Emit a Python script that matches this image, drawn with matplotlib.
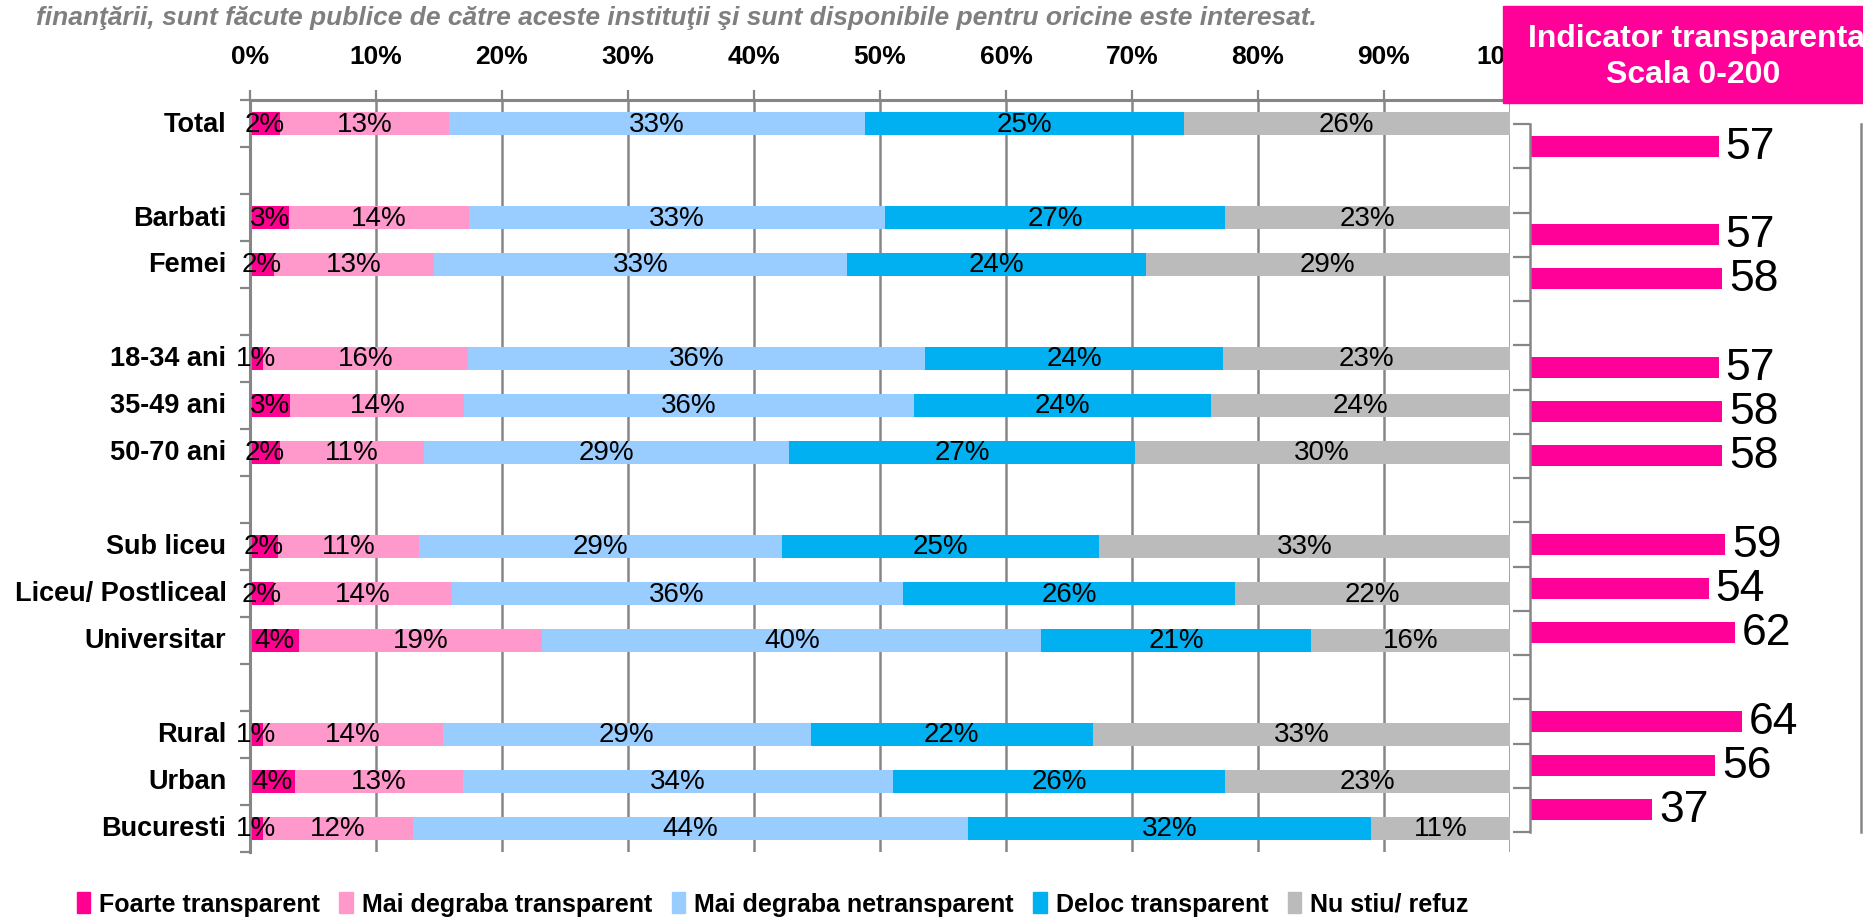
import matplotlib

matplotlib.use("Agg")
import matplotlib.pyplot as plt
from matplotlib.patches import Patch, Rectangle
import numpy as np

plt.rcParams["font.family"] = ["Liberation Sans", "DejaVu Sans"]

# groups of rows, separated by an empty slot
groups = [
    ["Total"],
    ["Barbati", "Femei"],
    ["18-34 ani", "35-49 ani", "50-70 ani"],
    ["Sub liceu", "Liceu/ Postliceal", "Universitar"],
    ["Rural", "Urban", "Bucuresti"],
]

series = ["Foarte transparent", "Mai degraba transparent", "Mai degraba netransparent",
          "Deloc transparent", "Nu stiu/ refuz"]
colors = ["#FF0090", "#FF99CC", "#99CCFF", "#00B0F0", "#BBBBBB"]

# shares per row (Total ... Bucuresti), percent
foarte = [2.4, 3.1, 1.9, 1.0, 3.2, 2.4, 2.2, 1.9, 3.9, 1.0, 3.6, 1.0]
mai_transp = [13.4, 14.3, 12.7, 16.3, 13.8, 11.4, 11.2, 14.1, 19.3, 14.3, 13.3, 11.9]
mai_netransp = [33.0, 33.0, 32.8, 36.3, 35.7, 29.0, 28.8, 35.8, 39.6, 29.2, 34.1, 44.1]
deloc = [25.3, 27.0, 23.7, 23.6, 23.6, 27.4, 25.2, 26.4, 21.4, 22.4, 26.4, 32.0]
nu_stiu = [25.9, 22.6, 28.9, 22.8, 23.7, 29.8, 32.6, 21.8, 15.8, 33.1, 22.6, 11.0]

# indicator transparenta, scala 0-200
indicator = [57, 57, 58, 57, 58, 58, 59, 54, 62, 64, 56, 37]

title = ("finanţării, sunt făcute publice de către aceste instituţii "
         "şi sunt disponibile pentru oricine este interesat.")

labels = [name for g in groups for name in g]
pos = []
slot = 0
for g in groups:
    for _ in g:
        pos.append(slot)
        slot += 1
    slot += 1
n_slots = slot - 1
pos = np.array(pos)

W, H = 1863, 920
fig = plt.figure(figsize=(W / 100, H / 100), dpi=100)
grey = "#868686"

# main stacked chart
ax = fig.add_axes([250 / W, (H - 853) / H, 1260 / W, 752 / H])
data = [foarte, mai_transp, mai_netransp, deloc, nu_stiu]
left = np.zeros(len(labels))
for vals, c, name in zip(data, colors, series):
    vals = np.array(vals)
    ax.barh(pos, vals, left=left, height=0.47, color=c, label=name, zorder=2)
    for y, l, v in zip(pos, left, vals):
        ax.text(l + v / 2, y, f"{int(v + 0.5)}%", ha="center", va="center",
                fontsize=20, color="black", zorder=3)
    left += vals

ax.set_xlim(0, 100)
ax.set_ylim(n_slots - 0.5, -0.5)
ax.xaxis.tick_top()
ax.set_xticks(np.arange(0, 101, 10))
ax.set_xticklabels([f"{t}%" for t in range(0, 101, 10)], fontsize=19, fontweight="bold")
ax.tick_params(axis="x", length=7, width=1.6, color=grey, pad=16)
ax.set_yticks(np.arange(-0.5, n_slots, 1))
ax.set_yticklabels([])
ax.tick_params(axis="y", length=7, width=1.6, color=grey)
ax.grid(axis="x", color=grey, linewidth=1.8, zorder=0)
ax.set_axisbelow(True)
for s in ["right", "bottom"]:
    ax.spines[s].set_visible(False)
for s in ["top", "left"]:
    ax.spines[s].set_color(grey)
    ax.spines[s].set_linewidth(2.2)
for y, lab in zip(pos, labels):
    ax.annotate(lab, xy=(0, y), xycoords=("axes fraction", "data"),
                xytext=(-17, 0), textcoords="offset points",
                ha="right", va="center", fontsize=19.5, fontweight="bold")

# indicator panel
ax2 = fig.add_axes([1530 / W, (H - 833) / H, 331 / W, 708 / H])
ax2.barh(pos, indicator, height=0.47, color="#FF0099")
for y, v in zip(pos, indicator):
    ax2.annotate(f"{v}", xy=(v, y), xytext=(5, 0), textcoords="offset points",
                 ha="left", va="center", fontsize=32)
ax2.set_xlim(0, 100)
ax2.set_ylim(n_slots - 0.5, -0.5)
ax2.set_xticks([])
ax2.set_yticks(np.arange(-0.5, n_slots, 1))
ax2.set_yticklabels([])
ax2.tick_params(axis="y", length=12, width=1.6, color=grey)
for s in ["top", "bottom"]:
    ax2.spines[s].set_visible(False)
for s in ["left", "right"]:
    ax2.spines[s].set_color(grey)
    ax2.spines[s].set_linewidth(1.8)

# header box
fig.patches.append(Rectangle((1503 / W, (H - 104) / H), 400 / W, 97 / H,
                             transform=fig.transFigure, color="#FF0099", zorder=10))
fig.text(1697 / W, 1 - 39 / H, "Indicator transparenta", ha="center", va="center",
         color="white", fontsize=23, fontweight="bold", zorder=11)
fig.text(1693 / W, 1 - 75 / H, "Scala 0-200", ha="center", va="center",
         color="white", fontsize=23, fontweight="bold", zorder=11)

fig.text(36 / W, 1 - 18 / H, title, ha="left", va="center", color="#7F7F7F",
         fontsize=19, fontweight="bold", style="italic")

handles = [Patch(color=c) for c in colors]
fig.legend(handles, series, loc="center left", bbox_to_anchor=(54 / W, 1 - 905 / H),
           ncol=5, frameon=False, handlelength=0.55, handleheight=0.9,
           handletextpad=0.35, columnspacing=0.78,
           prop={"size": 18, "weight": "bold"})

fig.savefig("out.png", dpi=100)
plt.close(fig)
